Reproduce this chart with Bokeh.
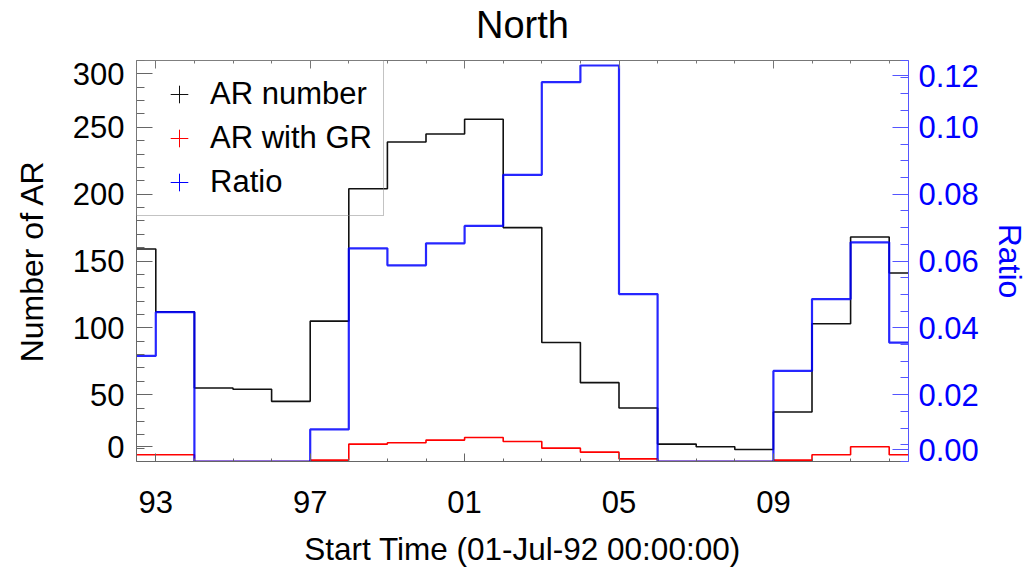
from bokeh.plotting import figure
from bokeh.models import Range1d, LinearAxis, FixedTicker, Legend, LegendItem
from bokeh.embed import file_html
from bokeh.resources import INLINE

# ---- data (yearly bins; 1992 and 2012 are half-year bins) ----
years = list(range(1992, 2013))
x_start, x_end = 1992.5, 2012.5
ar_number = [159, 112, 55, 54, 45, 105, 204, 239, 245, 256, 175,
             89, 59, 40, 13, 11, 9, 37, 103, 168, 141]
ar_with_gr = [5, 5, 0, 0, 0, 1, 13, 14, 16, 18, 15,
              10, 7, 2, 0, 0, 0, 1, 5, 11, 5]
ratio = [0.0316, 0.0447, 0.0, 0.0, 0.0, 0.0096, 0.0638, 0.0587, 0.0653, 0.0705, 0.0858,
         0.1135, 0.1185, 0.0501, 0.0, 0.0, 0.0, 0.0271, 0.0486, 0.0656, 0.0356]
x_tick_years = [1993, 1997, 2001, 2005, 2009]
x_tick_labels = ["93", "97", "01", "05", "09"]
left_ticks = [0, 50, 100, 150, 200, 250, 300]
left_tick_labels = ["0", "50", "100", "150", "200", "250", "300"]
right_ticks = [0.00, 0.02, 0.04, 0.06, 0.08, 0.10, 0.12]
right_tick_labels = ["0.00", "0.02", "0.04", "0.06", "0.08", "0.10", "0.12"]

# the reference draws its end tick labels pulled inside the frame
left_label_pos = [11] + left_ticks[1:-1] + [290]
right_label_pos = [0.0035] + right_ticks[1:-1] + [0.1155]

FONT = "Liberation Sans"
FS = "31px"
BLUE = "#0000ff"

edges = [x_start] + years[1:] + [x_end]

p = figure(width=1030, height=571, output_backend="svg", toolbar_location=None,
           x_range=Range1d(x_start, x_end), y_range=Range1d(left_ticks[0], left_ticks[-1]),
           min_border_left=136, min_border_right=118, min_border_top=59, min_border_bottom=110,
           background_fill_color="white", border_fill_color="white")
p.extra_y_ranges = {"ratio": Range1d(right_ticks[0], right_ticks[-1])}
p.xgrid.visible = False
p.ygrid.visible = False
p.outline_line_color = None

# bottom axis
xa = p.xaxis[0]
xa.ticker = FixedTicker(ticks=x_tick_years, minor_ticks=years[1:])
xa.major_label_overrides = {y: l for y, l in zip(x_tick_years, x_tick_labels)}
xa.major_tick_in = 8
xa.major_tick_out = 0
xa.minor_tick_in = 3
xa.minor_tick_out = 0
xa.axis_line_color = "#666666"
xa.major_tick_line_color = "#666666"
xa.minor_tick_line_color = "#666666"
xa.major_label_text_font = FONT
xa.major_label_text_font_size = FS
xa.major_label_text_color = "black"
xa.major_label_standoff = 29
xa.axis_label = "Start Time (01-Jul-92 00:00:00)"
xa.axis_label_text_font = FONT
xa.axis_label_text_font_size = "31.5px"
xa.axis_label_text_font_style = "normal"
xa.axis_label_text_color = "black"
xa.axis_label_standoff = 15

# top axis (ticks only) carrying the title "North"
ta = LinearAxis(ticker=FixedTicker(ticks=x_tick_years, minor_ticks=years[1:]),
                major_tick_in=8, major_tick_out=0, minor_tick_in=3, minor_tick_out=0,
                axis_line_color="#777777", major_tick_line_color="#777777",
                minor_tick_line_color="#777777", major_label_text_font_size="0px",
                major_label_standoff=0,
                axis_label="North", axis_label_text_font=FONT, axis_label_text_font_size="38px",
                axis_label_text_font_style="normal", axis_label_text_color="black",
                axis_label_standoff=15)
p.add_layout(ta, "above")

# left axis
ya = p.yaxis[0]
ya.ticker = FixedTicker(ticks=left_label_pos, minor_ticks=list(range(0, 301, 10)))
ya.major_label_overrides = {t: l for t, l in zip(left_label_pos, left_tick_labels)}
ya.major_tick_in = 16
ya.major_tick_out = 0
ya.minor_tick_in = 8
ya.minor_tick_out = 0
ya.axis_line_color = "#666666"
ya.major_tick_line_color = "#666666"
ya.minor_tick_line_color = "#666666"
ya.major_label_text_font = FONT
ya.major_label_text_font_size = FS
ya.major_label_text_color = "black"
ya.major_label_standoff = 12
ya.axis_label = "Number of AR"
ya.axis_label_text_font = FONT
ya.axis_label_text_font_size = "32px"
ya.axis_label_text_font_style = "normal"
ya.axis_label_text_color = "black"
ya.axis_label_standoff = 20

# right axis
ra = LinearAxis(y_range_name="ratio",
                ticker=FixedTicker(ticks=right_label_pos, minor_ticks=[i * 0.005 for i in range(25)]),
                major_tick_in=16, major_tick_out=0, minor_tick_in=8, minor_tick_out=0,
                axis_line_color="#5555ff", major_tick_line_color="#5555ff",
                minor_tick_line_color="#5555ff",
                major_label_text_font=FONT, major_label_text_font_size=FS,
                major_label_text_color=BLUE, major_label_standoff=10,
                axis_label="Ratio", axis_label_text_font=FONT, axis_label_text_font_size="32px",
                axis_label_text_font_style="normal", axis_label_text_color=BLUE,
                axis_label_standoff=10)
ra.major_label_overrides = {t: l for t, l in zip(right_label_pos, right_tick_labels)}
p.add_layout(ra, "right")

# histograms
p.step(x=edges, y=ar_number + [ar_number[-1]], mode="after", line_color="#111111", line_width=1.6)
p.step(x=edges, y=ar_with_gr + [ar_with_gr[-1]], mode="after", line_color="#ff0000", line_width=1.6)
p.step(x=edges, y=ratio + [ratio[-1]], mode="after", line_color=BLUE, line_width=2.2,
       line_alpha=0.85, y_range_name="ratio")

# legend with "+" symbols (hidden NaN point only feeds the legend icon)
leg_colors = ["#111111", "#ff0000", BLUE]
leg_labels = ["AR number", "AR with GR", "Ratio"]
items = []
for c, lab in zip(leg_colors, leg_labels):
    r = p.scatter(x=[float("nan")], y=[float("nan")], marker="cross", size=24,
                  line_color=c, line_width=1)
    items.append(LegendItem(label=lab, renderers=[r]))
legend = Legend(items=items, location="top_left", margin=0, padding=11, spacing=0,
                glyph_width=62, glyph_height=44, label_standoff=0,
                label_text_font=FONT, label_text_font_size=FS, label_text_color="black",
                border_line_color="#888888", border_line_width=1,
                background_fill_alpha=0)
p.add_layout(legend)

open("out.html", "w").write(file_html(p, INLINE))
